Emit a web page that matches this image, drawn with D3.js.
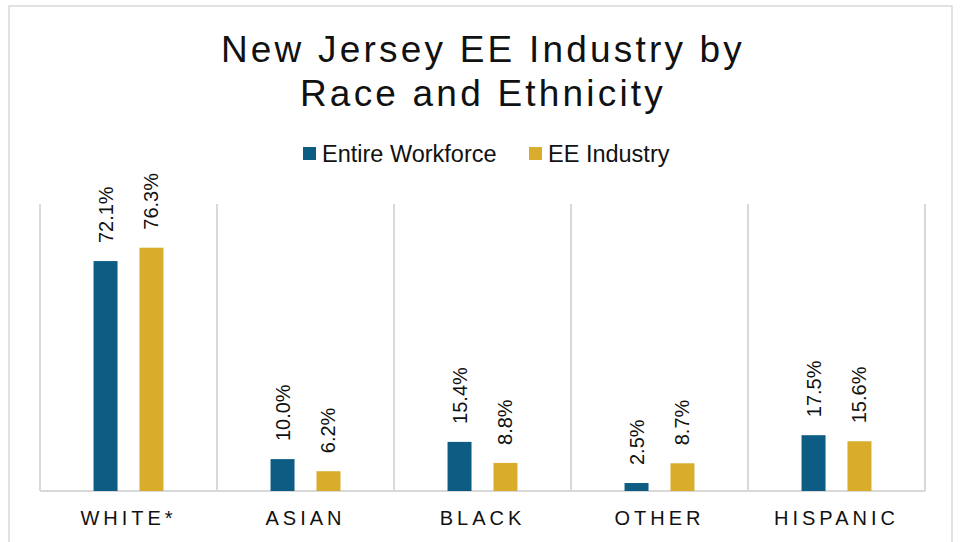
<!doctype html>
<html lang="en">
<head>
<meta charset="utf-8">
<title>New Jersey EE Industry by Race and Ethnicity</title>
<script src="https://cdn.jsdelivr.net/npm/d3@7"></script>
<style>
	body { margin: 0; background: #fff; }
	text { font-family: "Liberation Sans", Arial, sans-serif; fill: #111; }
	.grid line { stroke: #d9d9d9; stroke-width: 1.5; shape-rendering: crispEdges; }
</style>
</head>
<body>
<div id="viz"></div>
<script>
// Data
var categories = ["WHITE*", "ASIAN", "BLACK", "OTHER", "HISPANIC"];
var seriesNames = ["Entire Workforce", "EE Industry"];
var entireWorkforce = [72.1, 10.0, 15.4, 2.5, 17.5];
var eeIndustry = [76.3, 6.2, 8.8, 8.7, 15.6];
var seriesColors = ["#0c5c84", "#d9ad2b"];

var w = 960, h = 542;
var margin = {top: 204, right: 35, bottom: 51, left: 40};

var svg = d3.select("#viz").append("svg")
	.attr("width", w)
	.attr("height", h);

// outer chart border
svg.append("rect")
	.attr("x", 9).attr("y", 6)
	.attr("width", 943).attr("height", h)
	.attr("fill", "none")
	.attr("stroke", "#d9d9d9")
	.attr("stroke-width", 1.5);

// SCALES
var x0 = d3.scaleBand()
	.domain(categories)
	.range([margin.left, w - margin.right])
	.paddingInner(0.605)
	.paddingOuter(0.3025);

var x1 = d3.scaleBand()
	.domain(seriesNames)
	.range([0, x0.bandwidth()])
	.paddingInner(0.478);

var y = d3.scaleLinear()
	.domain([0, 90])
	.range([h - margin.bottom, margin.top]);

var step = x0.step();

// vertical gridlines at category boundaries
var grid = svg.append("g").attr("class", "grid");
grid.selectAll("line")
	.data(d3.range(categories.length + 1))
	.enter()
	.append("line")
	.attr("x1", function(i){ return margin.left + i * step; })
	.attr("x2", function(i){ return margin.left + i * step; })
	.attr("y1", y(90))
	.attr("y2", y(0));

// baseline
grid.append("line")
	.attr("x1", margin.left).attr("x2", w - margin.right)
	.attr("y1", y(0)).attr("y2", y(0));

// rows: category -> two values
var rows = categories.map(function(c, i){
	return {cat: c, values: [
		{name: seriesNames[0], value: entireWorkforce[i], color: seriesColors[0]},
		{name: seriesNames[1], value: eeIndustry[i], color: seriesColors[1]}
	]};
});

var groups = svg.selectAll("g.cat")
	.data(rows)
	.enter()
	.append("g")
	.attr("class", "cat")
	.attr("transform", function(d){ return "translate(" + x0(d.cat) + ",0)"; });

groups.selectAll("rect")
	.data(function(d){ return d.values; })
	.enter()
	.append("rect")
	.attr("x", function(d){ return x1(d.name); })
	.attr("y", function(d){ return y(d.value); })
	.attr("width", x1.bandwidth())
	.attr("height", function(d){ return y(0) - y(d.value); })
	.attr("fill", function(d){ return d.color; });

// rotated data labels
groups.selectAll("text")
	.data(function(d){ return d.values; })
	.enter()
	.append("text")
	.attr("transform", function(d){
		var cx = x1(d.name) + x1.bandwidth() / 2;
		return "translate(" + cx + "," + (y(d.value) - 18) + ") rotate(-90)";
	})
	.attr("dy", "0.35em")
	.style("font-size", "20px")
	.text(function(d){ return d.value.toFixed(1) + "%"; });

// category labels
svg.selectAll("text.cat-label")
	.data(categories)
	.enter()
	.append("text")
	.attr("class", "cat-label")
	.attr("x", function(d){ return x0(d) + x0.bandwidth() / 2; })
	.attr("y", 525)
	.attr("text-anchor", "middle")
	.style("font-size", "20px")
	.style("letter-spacing", "4px")
	.text(function(d){ return d; });

// title
var title = svg.append("text")
	.attr("text-anchor", "middle")
	.style("font-size", "37px")
	.style("letter-spacing", "3.2px");
title.append("tspan").attr("x", 483).attr("y", 62).text("New Jersey EE Industry by");
title.append("tspan").attr("x", 483).attr("y", 106).text("Race and Ethnicity");

// legend
var legendX = [303, 529];
var legend = svg.selectAll("g.legend")
	.data(seriesNames)
	.enter()
	.append("g")
	.attr("class", "legend")
	.attr("transform", function(d, i){ return "translate(" + legendX[i] + ",147)"; });

legend.append("rect")
	.attr("width", 13).attr("height", 13)
	.attr("fill", function(d, i){ return seriesColors[i]; });

legend.append("text")
	.attr("x", 19)
	.attr("y", 14.5)
	.style("font-size", "23.5px")
	.text(function(d){ return d; });
</script>
</body>
</html>
